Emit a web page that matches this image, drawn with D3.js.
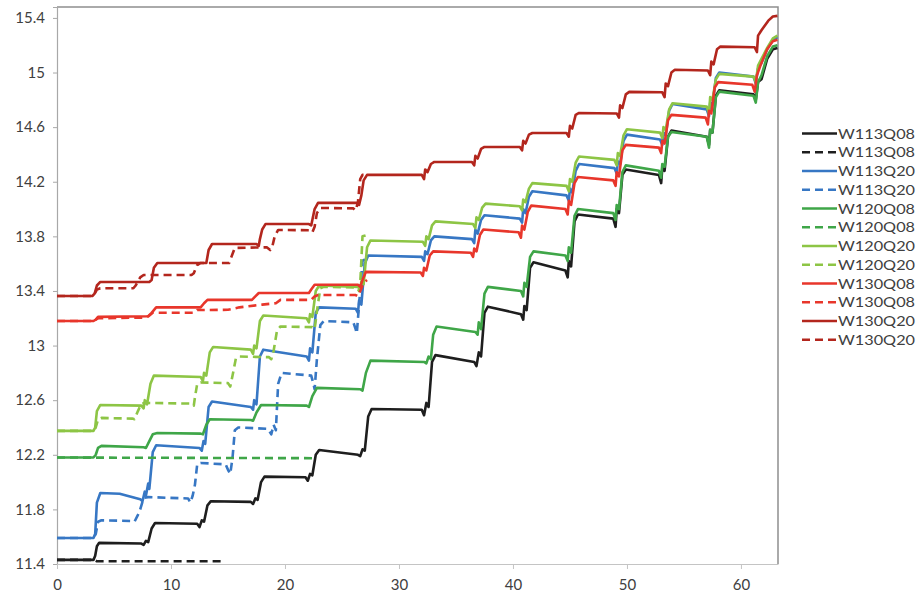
<!DOCTYPE html>
<html>
<head>
<meta charset="utf-8">
<script src="https://cdn.jsdelivr.net/npm/d3@7/dist/d3.min.js"></script>
<style>
  html, body { margin: 0; padding: 0; background: #ffffff; }
  svg { display: block; }
</style>
</head>
<body>
<script>
// ---------- DATA ----------
const xTicks = [0, 10, 20, 30, 40, 50, 60];
const yTicks = [11.4, 11.8, 12.2, 12.6, 13, 13.4, 13.8, 14.2, 14.6, 15, 15.4];
const yTickLabels = ["11.4", "11.8", "12.2", "12.6", "13", "13.4", "13.8", "14.2", "14.6", "15", "15.4"];

const seriesNames = ["W113Q08", "W113Q08", "W113Q20", "W113Q20", "W120Q08", "W120Q08",
                     "W120Q20", "W120Q20", "W130Q08", "W130Q08", "W130Q20", "W130Q20"];
const seriesDashed = [false, true, false, true, false, true, false, true, false, true, false, true];
const seriesColors = ["#1e1e1e", "#1e1e1e", "#3777c4", "#3777c4", "#3fa648", "#3fa648",
                      "#8dc545", "#8dc545", "#e8362b", "#e8362b", "#b3261d", "#b3261d"];

const w113q08Solid = [[0,11.43],[3.2,11.43],[3.35,11.46],[3.5,11.53],[3.7,11.555],[7.4,11.55],[7.6,11.54],[7.8,11.57],[8.0,11.56],[8.3,11.66],[8.6,11.70],[12.3,11.695],[12.5,11.67],[12.7,11.72],[12.9,11.71],[13.2,11.83],[13.5,11.86],[17.0,11.855],[17.2,11.84],[17.4,11.88],[17.6,11.87],[17.9,12.0],[18.2,12.04],[21.8,12.035],[22.0,12.01],[22.2,12.06],[22.4,12.05],[22.7,12.2],[23.0,12.235],[26.4,12.20],[26.6,12.19],[26.8,12.24],[27.0,12.23],[27.3,12.48],[27.6,12.535],[32.0,12.53],[32.2,12.49],[32.4,12.58],[32.6,12.55],[32.9,12.88],[33.2,12.93],[36.6,12.88],[36.8,12.85],[37.0,12.95],[37.2,12.92],[37.5,13.24],[37.8,13.285],[40.7,13.23],[40.9,13.19],[41.0,13.29],[41.2,13.26],[41.5,13.57],[41.8,13.61],[44.6,13.55],[44.8,13.50],[44.9,13.62],[45.1,13.58],[45.4,13.91],[45.7,13.96],[48.8,13.93],[49.0,13.87],[49.1,14.00],[49.3,13.97],[49.6,14.25],[49.9,14.29],[52.8,14.25],[53.0,14.19],[53.1,14.30],[53.3,14.28],[53.6,14.53],[53.9,14.575],[57.0,14.53],[57.2,14.47],[57.3,14.58],[57.5,14.56],[57.8,14.83],[58.1,14.87],[61.1,14.84],[61.3,14.80],[61.5,14.93],[61.8,14.95],[62.3,15.1],[62.8,15.17],[63.2,15.18]];
const w113q08Dashed = [[0,11.43],[3.3,11.43],[3.5,11.42],[14.6,11.42]];

const w113q20Solid = [[0,11.59],[3.2,11.59],[3.35,11.62],[3.5,11.85],[3.8,11.92],[5.5,11.915],[7.3,11.875],[7.5,11.86],[7.7,11.93],[7.8,11.90],[8.0,11.99],[8.1,11.95],[8.4,12.22],[8.7,12.27],[12.5,12.25],[12.7,12.23],[12.85,12.30],[13.0,12.28],[13.3,12.55],[13.6,12.59],[17.0,12.55],[17.2,12.53],[17.3,12.60],[17.5,12.57],[17.8,12.92],[18.1,12.97],[21.9,12.92],[22.1,12.89],[22.2,12.98],[22.4,12.95],[22.7,13.24],[23.0,13.28],[26.2,13.27],[26.4,13.24],[26.5,13.33],[26.7,13.30],[27.0,13.60],[27.3,13.66],[32.0,13.65],[32.2,13.62],[32.3,13.69],[32.5,13.67],[32.8,13.77],[33.1,13.80],[36.4,13.78],[36.6,13.75],[36.7,13.85],[36.9,13.82],[37.2,13.92],[37.5,13.955],[40.6,13.93],[40.8,13.90],[40.9,14.0],[41.1,13.97],[41.4,14.09],[41.7,14.13],[44.7,14.10],[44.9,14.06],[45.0,14.15],[45.2,14.12],[45.5,14.28],[45.8,14.33],[48.9,14.30],[49.1,14.26],[49.2,14.35],[49.4,14.33],[49.7,14.50],[50.0,14.545],[52.9,14.51],[53.1,14.47],[53.2,14.56],[53.4,14.54],[53.7,14.72],[54.0,14.77],[57.0,14.73],[57.2,14.68],[57.3,14.78],[57.5,14.76],[57.8,14.96],[58.1,15.00],[61.1,14.97],[61.3,14.92],[61.5,15.03],[61.8,15.07],[62.3,15.17],[62.8,15.24],[63.2,15.26]];
const w113q20Dashed = [[0,11.59],[3.2,11.59],[3.4,11.62],[3.6,11.71],[3.9,11.72],[6.6,11.715],[6.8,11.71],[7.1,11.76],[7.3,11.80],[7.6,11.885],[8.0,11.89],[11.5,11.88],[11.7,11.85],[11.9,11.90],[12.1,11.98],[12.3,12.13],[12.6,12.14],[14.8,12.13],[15.0,12.09],[15.2,12.06],[15.4,12.18],[15.6,12.38],[15.9,12.40],[18.5,12.39],[18.8,12.35],[19.0,12.42],[19.2,12.38],[19.4,12.72],[19.7,12.80],[22.3,12.78],[22.5,12.72],[22.6,12.68],[22.8,12.9],[23.1,13.15],[23.4,13.18],[26.0,13.17],[26.2,13.12],[26.3,13.09],[26.5,13.3],[26.8,13.62],[27.2,13.64]];

const w120q08Solid = [[0,12.18],[3.2,12.18],[3.4,12.2],[3.6,12.25],[3.9,12.265],[7.6,12.255],[7.8,12.25],[8.1,12.30],[8.4,12.35],[8.8,12.36],[12.6,12.355],[12.8,12.35],[13.1,12.42],[13.4,12.46],[17.0,12.455],[17.2,12.45],[17.5,12.51],[17.9,12.565],[21.9,12.56],[22.1,12.55],[22.4,12.63],[22.8,12.69],[26.6,12.68],[26.8,12.67],[27.1,12.80],[27.5,12.89],[32.2,12.88],[32.4,12.87],[32.6,12.92],[32.8,12.90],[33.0,13.08],[33.3,13.14],[36.7,13.10],[36.9,13.08],[37.0,13.17],[37.2,13.12],[37.5,13.38],[37.8,13.43],[40.7,13.40],[40.9,13.36],[41.0,13.46],[41.2,13.43],[41.5,13.65],[41.8,13.69],[44.6,13.66],[44.8,13.62],[44.9,13.72],[45.1,13.68],[45.4,13.95],[45.7,14.00],[48.8,13.97],[49.0,13.92],[49.1,14.03],[49.3,14.0],[49.6,14.27],[49.9,14.32],[52.8,14.28],[53.0,14.23],[53.1,14.33],[53.3,14.31],[53.6,14.53],[53.9,14.565],[57.0,14.53],[57.2,14.45],[57.3,14.58],[57.5,14.56],[57.8,14.82],[58.1,14.86],[61.1,14.83],[61.3,14.78],[61.5,14.93],[61.8,14.98],[62.3,15.12],[62.8,15.19],[63.2,15.2]];
const w120q08Dashed = [[0,12.18],[22.4,12.175]];

const w120q20Solid = [[0,12.375],[3.2,12.375],[3.35,12.40],[3.5,12.52],[3.8,12.565],[7.4,12.56],[7.6,12.54],[7.7,12.60],[7.9,12.57],[8.2,12.72],[8.5,12.78],[12.6,12.77],[12.8,12.74],[12.9,12.80],[13.1,12.78],[13.4,12.95],[13.7,12.99],[17.0,12.97],[17.2,12.94],[17.3,13.0],[17.5,12.98],[17.8,13.18],[18.1,13.22],[21.9,13.20],[22.1,13.17],[22.2,13.23],[22.4,13.21],[22.7,13.40],[23.0,13.44],[26.4,13.43],[26.6,13.41],[26.7,13.47],[26.9,13.45],[27.2,13.72],[27.5,13.77],[32.1,13.76],[32.3,13.73],[32.4,13.80],[32.6,13.78],[32.9,13.88],[33.2,13.91],[36.5,13.89],[36.7,13.86],[36.8,13.94],[37.0,13.92],[37.3,14.01],[37.6,14.04],[40.6,14.02],[40.8,13.99],[40.9,14.07],[41.1,14.05],[41.4,14.15],[41.7,14.19],[44.7,14.17],[44.9,14.13],[45.0,14.22],[45.2,14.20],[45.5,14.34],[45.8,14.385],[48.9,14.36],[49.1,14.32],[49.2,14.41],[49.4,14.39],[49.7,14.54],[50.0,14.585],[52.9,14.56],[53.1,14.52],[53.2,14.60],[53.4,14.58],[53.7,14.73],[54.0,14.775],[57.0,14.75],[57.2,14.70],[57.3,14.82],[57.5,14.80],[57.8,14.95],[58.1,14.99],[61.1,14.97],[61.3,14.93],[61.5,15.05],[61.8,15.10],[62.3,15.18],[62.8,15.25],[63.2,15.27]];
const w120q20Dashed = [[0,12.375],[3.2,12.375],[3.4,12.40],[3.6,12.46],[3.9,12.47],[6.6,12.465],[6.8,12.46],[7.1,12.52],[7.4,12.575],[7.8,12.58],[11.8,12.575],[12.0,12.56],[12.1,12.62],[12.3,12.72],[12.6,12.73],[15.0,12.725],[15.2,12.70],[15.4,12.78],[15.7,12.91],[16.0,12.92],[18.6,12.915],[18.8,12.90],[19.0,12.96],[19.3,13.11],[19.6,13.14],[22.4,13.135],[22.6,13.12],[22.8,13.25],[23.1,13.42],[23.4,13.43],[26.3,13.425],[26.5,13.40],[26.6,13.45],[26.8,13.80],[27.2,13.81]];

const w130q08Solid = [[0,13.18],[3.2,13.18],[3.4,13.19],[3.6,13.21],[8.0,13.215],[8.3,13.24],[8.7,13.28],[12.6,13.28],[12.9,13.31],[13.2,13.335],[17.1,13.335],[17.4,13.36],[17.7,13.385],[22.1,13.385],[22.3,13.41],[22.6,13.445],[26.4,13.445],[26.6,13.43],[26.8,13.48],[27.1,13.54],[31.9,13.535],[32.1,13.51],[32.2,13.57],[32.4,13.55],[32.7,13.66],[33.0,13.69],[36.3,13.68],[36.5,13.65],[36.6,13.71],[36.8,13.69],[37.1,13.81],[37.4,13.85],[40.5,13.83],[40.7,13.79],[40.8,13.88],[41.0,13.85],[41.3,13.98],[41.6,14.025],[44.6,14.00],[44.8,13.96],[44.9,14.06],[45.1,14.03],[45.4,14.19],[45.7,14.235],[48.8,14.21],[49.0,14.17],[49.1,14.27],[49.3,14.24],[49.6,14.43],[49.9,14.47],[52.8,14.45],[53.0,14.41],[53.1,14.50],[53.3,14.48],[53.6,14.65],[53.9,14.69],[56.9,14.67],[57.1,14.62],[57.2,14.72],[57.4,14.70],[57.7,14.89],[58.0,14.93],[61.0,14.91],[61.2,14.86],[61.4,14.98],[61.7,15.05],[62.3,15.17],[62.8,15.23],[63.2,15.24]];
const w130q08Dashed = [[0,13.18],[3.2,13.18],[3.4,13.19],[3.6,13.20],[7.8,13.205],[8.1,13.22],[8.4,13.24],[12.0,13.24],[12.3,13.26],[15.0,13.262],[16.0,13.28],[18.0,13.30],[19.2,13.31],[19.6,13.335],[22.3,13.335],[22.6,13.36],[22.9,13.37],[26.2,13.37],[26.4,13.36],[26.6,13.40],[26.9,13.46],[27.2,13.48]];

const w130q20Solid = [[0,13.363],[3.1,13.363],[3.3,13.38],[3.5,13.44],[3.8,13.466],[8.1,13.466],[8.3,13.48],[8.5,13.57],[8.8,13.605],[13.1,13.605],[13.3,13.70],[13.6,13.744],[17.5,13.744],[17.7,13.73],[17.8,13.78],[18.0,13.85],[18.3,13.891],[22.1,13.89],[22.3,13.88],[22.4,13.92],[22.6,14.0],[22.9,14.045],[26.3,14.045],[26.5,14.03],[26.7,14.10],[26.9,14.21],[27.2,14.25],[32.0,14.25],[32.2,14.22],[32.3,14.29],[32.5,14.27],[32.8,14.33],[33.1,14.345],[36.4,14.345],[36.6,14.32],[36.7,14.39],[36.9,14.37],[37.2,14.44],[37.5,14.455],[40.6,14.455],[40.8,14.43],[40.9,14.50],[41.1,14.48],[41.4,14.545],[41.7,14.557],[44.7,14.557],[44.9,14.53],[45.0,14.61],[45.2,14.59],[45.5,14.69],[45.8,14.704],[49.1,14.70],[49.3,14.67],[49.4,14.76],[49.6,14.74],[49.9,14.84],[50.2,14.858],[53.1,14.855],[53.3,14.82],[53.4,14.92],[53.6,14.90],[53.9,15.0],[54.2,15.02],[57.1,15.015],[57.3,14.98],[57.4,15.08],[57.6,15.06],[57.9,15.17],[58.2,15.19],[61.2,15.185],[61.4,15.15],[61.5,15.27],[61.8,15.31],[62.4,15.38],[62.8,15.41],[63.2,15.415]];
const w130q20Dashed = [[0,13.363],[3.1,13.363],[3.3,13.38],[3.5,13.41],[3.8,13.42],[6.7,13.42],[6.9,13.44],[7.3,13.50],[7.6,13.517],[11.8,13.517],[12.0,13.53],[12.3,13.59],[12.6,13.605],[15.1,13.605],[15.3,13.65],[15.6,13.715],[18.4,13.72],[18.7,13.70],[18.9,13.73],[19.1,13.80],[19.4,13.847],[22.2,13.845],[22.4,13.83],[22.6,13.87],[22.8,13.97],[23.1,14.008],[26.0,14.005],[26.2,13.99],[26.4,14.05],[26.6,14.22],[26.8,14.25],[27.3,14.25]];

const seriesData = [w113q08Solid, w113q08Dashed, w113q20Solid, w113q20Dashed,
                    w120q08Solid, w120q08Dashed, w120q20Solid, w120q20Dashed,
                    w130q08Solid, w130q08Dashed, w130q20Solid, w130q20Dashed];

// ---------- LAYOUT ----------
const W = 919, H = 595;
const plot = { left: 57, right: 778, top: 7, bottom: 564 };

const svg = d3.select("body").append("svg").attr("width", W).attr("height", H);
svg.append("rect").attr("width", W).attr("height", H).attr("fill", "#ffffff");

const x = d3.scaleLinear().domain([0, 63.25]).range([plot.left, plot.right]);
const y = d3.scaleLinear().domain([11.4, 15.48]).range([plot.bottom, plot.top]);

const fontFam = "Lato, 'Open Sans', 'Liberation Sans', sans-serif";

// frame (top and right borders)
svg.append("path")
  .attr("d", `M${plot.left},${plot.top}H${plot.right}V${plot.bottom}`)
  .attr("fill", "none").attr("stroke", "#8e8e8e").attr("stroke-width", 1.5);

// y axis
const yAxis = d3.axisLeft(y).tickValues(yTicks)
  .tickFormat((d, i) => yTickLabels[i]).tickSize(4).tickPadding(8);
const gy = svg.append("g").attr("transform", `translate(${plot.left},0)`).call(yAxis);
gy.select(".domain").attr("stroke", "#a8a8a8").attr("stroke-width", 1.2);
gy.selectAll(".tick line").attr("stroke", "#a8a8a8");
gy.selectAll(".tick text").attr("font-family", fontFam).attr("font-size", 15)
  .attr("fill", "#404040");

// x axis
const xAxis = d3.axisBottom(x).tickValues(xTicks).tickFormat(d3.format("d"))
  .tickSize(5).tickPadding(10).tickSizeOuter(0);
const gx = svg.append("g").attr("transform", `translate(0,${plot.bottom})`).call(xAxis);
gx.select(".domain").attr("stroke", "#c4c4c4").attr("stroke-width", 1.2);
gx.selectAll(".tick line").attr("stroke", "#c4c4c4");
gx.selectAll(".tick text").attr("font-family", fontFam).attr("font-size", 15)
  .attr("fill", "#404040");

// lines
const line = d3.line().x(d => x(d[0])).y(d => y(d[1])).curve(d3.curveLinear);
const gLines = svg.append("g");
seriesData.forEach((data, i) => {
  gLines.append("path")
    .datum(data)
    .attr("d", line)
    .attr("fill", "none")
    .attr("stroke", seriesColors[i])
    .attr("stroke-width", 2.6)
    .attr("stroke-linejoin", "round")
    .attr("stroke-dasharray", seriesDashed[i] ? "8,5" : null);
});

// legend
const legend = svg.append("g");
const legY0 = 133.5, legDy = 18.75;
seriesNames.forEach((name, i) => {
  const yy = legY0 + i * legDy;
  legend.append("line")
    .attr("x1", 802).attr("x2", 837).attr("y1", yy).attr("y2", yy)
    .attr("stroke", seriesColors[i]).attr("stroke-width", 2.6)
    .attr("stroke-dasharray", seriesDashed[i] ? "8,5" : null);
  legend.append("text")
    .attr("x", 838).attr("y", yy).attr("dy", "0.36em")
    .attr("font-family", fontFam).attr("font-size", 14)
    .attr("fill", "#404040")
    .attr("textLength", 77).attr("lengthAdjust", "spacingAndGlyphs")
    .text(name);
});
</script>
</body>
</html>
